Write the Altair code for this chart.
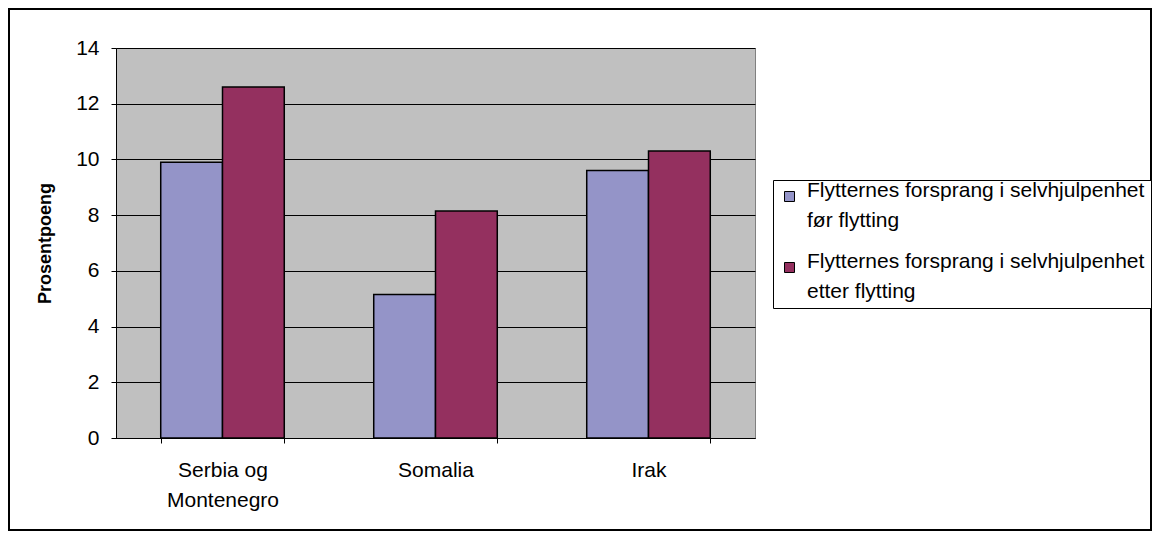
import altair as alt
import pandas as pd

categories = ["Serbia og\nMontenegro", "Somalia", "Irak"]
series = ["Flytternes forsprang i selvhjulpenhet\nfør flytting",
          "Flytternes forsprang i selvhjulpenhet\netter flytting"]
before = [9.9, 5.15, 9.6]
after = [12.6, 8.15, 10.3]
colors = ["#9494C8", "#94305F"]

rows = []
for c, b, a in zip(categories, before, after):
    rows.append({"land": c, "serie": series[0], "verdi": b})
    rows.append({"land": c, "serie": series[1], "verdi": a})
df = pd.DataFrame(rows)

FONT = "Liberation Sans"
FS = 21

legend = alt.Legend(
    title=None, orient="none", legendX=657, legendY=132,
    strokeColor="black", fillColor="white", padding=6,
    symbolType="square", symbolSize=100, symbolStrokeColor="black",
    symbolStrokeWidth=1, labelFont=FONT, labelFontSize=FS,
    labelColor="black", labelLimit=500, labelBaseline="alphabetic",
    labelExpr="split(datum.label, '\\n')", rowPadding=19,
    labelOffset=7,
)

bars = alt.Chart(df).mark_bar(stroke="black", strokeWidth=1.5).encode(
    x=alt.X("land:N", sort=categories, title=None,
            scale=alt.Scale(paddingInner=0.42, paddingOuter=0.21),
            axis=alt.Axis(labelAngle=0, labelFont=FONT, labelFontSize=FS,
                          labelColor="black", tickBand="extent",
                          tickColor="black", tickSize=5, domainColor="black",
                          labelPadding=16, labelLineHeight=30,
                          labelExpr="split(datum.label, '\\n')",
                          labelBaseline="top")),
    xOffset=alt.XOffset("serie:N", sort=series),
    y=alt.Y("verdi:Q", scale=alt.Scale(domain=[0, 14]),
            title="Prosentpoeng",
            axis=alt.Axis(values=[0, 2, 4, 6, 8, 10, 12, 14], grid=True,
                          gridColor="black", gridWidth=1,
                          labelFont=FONT, labelFontSize=FS, labelColor="black",
                          tickColor="black", tickSize=5, domainColor="black",
                          labelPadding=12, titleFont=FONT, titleFontSize=18,
                          titleFontWeight="bold", titleColor="black",
                          titleX=-71, titleY=195, titleAngle=-90,
                          titleAlign="center", titleBaseline="middle")),
    color=alt.Color("serie:N", sort=series,
                    scale=alt.Scale(domain=series, range=colors),
                    legend=legend),
)

border = alt.Chart(pd.DataFrame({"a": [0]})).mark_rect(
    fill=None, stroke="black", strokeWidth=2
).encode(x=alt.value(-107), x2=alt.value(1035),
         y=alt.value(-39), y2=alt.value(482))

chart = alt.layer(bars, border).properties(
    width=639, height=390,
    autosize=alt.AutoSizeParams(type="none"),
    padding={"left": 108, "top": 40, "right": 398, "bottom": 94},
    background="white",
).configure(
    view=alt.ViewConfig(fill="#C0C0C0", stroke="#808080"),
    style={"guide-label": {"lineHeight": 30}},
)

chart.save("out.html", embed_options={"renderer": "svg", "actions": False})
